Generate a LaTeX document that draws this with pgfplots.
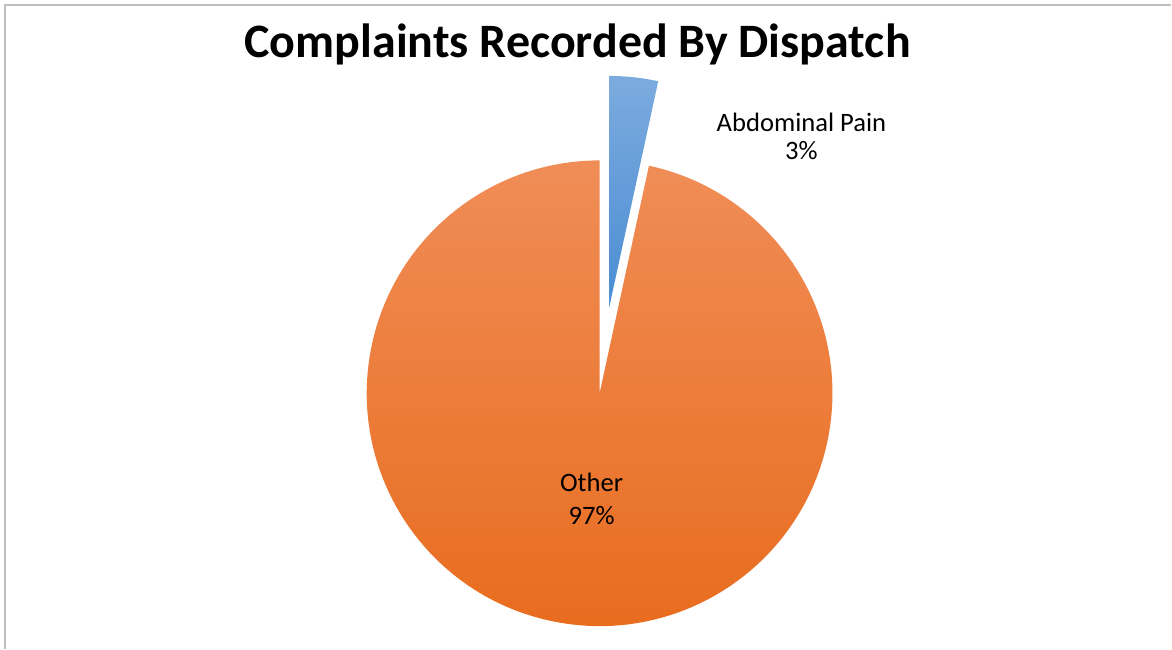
\documentclass[border=0pt]{standalone}
\usepackage{pgfplots}
\pgfplotsset{compat=1.18}
\usepackage{pgfplotstable}
\usepackage{fontspec}
\setmainfont{Carlito}
\pgfplotstableread{
slice value
AbdominalPain 3.4
Other 96.6
}\piedata
\definecolor{orTop}{HTML}{F08D57}
\definecolor{orMid}{HTML}{F47E2D}
\definecolor{orBot}{HTML}{E86B1C}
\definecolor{blTop}{HTML}{7CABDE}
\definecolor{blBot}{HTML}{4A8DD3}
\definecolor{frameC}{HTML}{BFBFBF}
\begin{document}
\begin{tikzpicture}
\pgfplotstablegetelem{0}{value}\of\piedata \let\vA\pgfplotsretval
\pgfplotstablegetelem{1}{value}\of\piedata \let\vB\pgfplotsretval
\pgfmathsetmacro\aA{90-360*\vA/(\vA+\vB)}
\begin{axis}[width=586pt,height=324.5pt,scale only axis,
  xmin=0,xmax=1172,ymin=-649,ymax=0,hide axis,clip=false]
\path (axis cs:0,0) (axis cs:1172,-649);
\draw[frameC,line width=0.8pt] (axis cs:5,-649) -- (axis cs:5,-5) -- (axis cs:1172,-5);
\shade[top color=orTop,middle color=orMid,bottom color=orBot] (axis cs:600,-393.5) -- ++(\aA:116.5pt) arc[start angle=\aA,end angle=-270,radius=116.5pt] -- cycle;
\shade[top color=blTop,bottom color=blBot] (axis cs:609.5,-308) -- ++(90:116pt) arc[start angle=90,end angle=\aA,radius=116pt] -- cycle;
\node[font=\fontsize{24}{29}\selectfont\bfseries,anchor=base,inner sep=0pt] at (axis cs:578,-58) {Complaints Recorded By Dispatch};
\node[font=\fontsize{13.3}{16}\selectfont,anchor=base,inner sep=0pt] at (axis cs:802,-132) {Abdominal Pain};
\node[font=\fontsize{13.3}{16}\selectfont,anchor=base,inner sep=0pt] at (axis cs:802,-160) {3\%};
\node[font=\fontsize{13.3}{16}\selectfont,anchor=base,inner sep=0pt] at (axis cs:592,-492) {Other};
\node[font=\fontsize{13.3}{16}\selectfont,anchor=base,inner sep=0pt] at (axis cs:592,-525) {97\%};
\end{axis}
\end{tikzpicture}
\end{document}
